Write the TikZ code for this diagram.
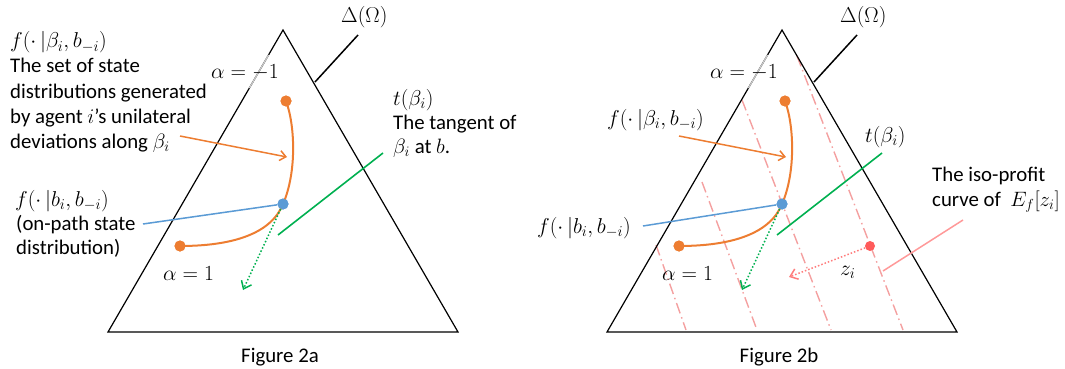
\documentclass[tikz,border=0pt]{standalone}
\usepackage{fix-cm}
\usepackage{fontspec}
\setmainfont{Carlito}
\usetikzlibrary{arrows.meta}
\definecolor{corange}{HTML}{ED7D31}
\definecolor{cblue}{HTML}{5B9BD5}
\definecolor{cgreen}{HTML}{00B050}
\definecolor{cpink}{HTML}{F4A0A0}
\definecolor{cpinkline}{HTML}{FF9999}
\definecolor{cred}{HTML}{FF5B5B}
\definecolor{cgray}{HTML}{C8C8C8}
\begin{document}
\begin{tikzpicture}[x=1pt,y=-1pt,
  font=\fontsize{20.8}{25}\selectfont,
  tri/.style={draw=black, line width=1.2pt, line join=miter},
  edgegray/.style={draw=cgray, line width=1.3pt},
  deltaline/.style={draw=black, line width=1.5pt},
  ocurve/.style={draw=corange, line width=2pt},
  odot/.style={circle, fill=corange, inner sep=0pt, minimum size=11pt},
  bdot/.style={circle, fill=cblue, inner sep=0pt, minimum size=11pt},
  rdot/.style={circle, fill=cred, inner sep=0pt, minimum size=10pt},
  oarrow/.style={draw=corange, line width=1.5pt, -{Straight Barb[length=6pt,width=10pt]}},
  bline/.style={draw=cblue, line width=1.5pt},
  gline/.style={draw=cgreen, line width=1.6pt},
  garrow/.style={draw=cgreen, line width=1.5pt, dotted, -{Straight Barb[length=7pt,width=11pt]}},
  parrow/.style={draw=cred!80, line width=1.5pt, dotted, -{Straight Barb[length=7pt,width=11pt]}},
  isoline/.style={draw=cpinkline, line width=1.5pt},
  dashdotp/.style={draw=cpink, line width=1.4pt, dash pattern=on 11pt off 4pt on 1.5pt off 4pt},
  lbl/.style={anchor=base west, inner sep=0pt},
  mlbl/.style={anchor=base west, inner sep=0pt, font=\fontsize{21.5}{25}\selectfont},
  figcap/.style={anchor=base, inner sep=0pt}]
\useasboundingbox (0,0) rectangle (1065,369);

%================ Figure 2a ================
\coordinate (aA) at (283,30);
\coordinate (aL) at (108,332);
\coordinate (aR) at (458,332);
\draw[tri] (aA) -- (aL) -- (aR) -- cycle;
\coordinate (ag1) at (268.5,55);
\coordinate (ag2) at (249.4,88);
\draw[edgegray] (ag1) -- (ag2);
% Delta(Omega)
\coordinate (adl1) at (315,82);
\coordinate (adl2) at (358,35);
\draw[deltaline] (adl1) -- (adl2);
\node[mlbl] (adelta) at (341,23) {$\Delta(\Omega)$};
% orange curve
\node[odot] (atop) at (286,101) {};
\node[odot] (abot) at (180,246) {};
\node[bdot] (ab) at (283,204) {};
\draw[ocurve] (atop.center) .. controls (295,125) and (297,172) .. (ab.center)
  .. controls (271,234) and (232,246) .. (abot.center);
\node[odot] at (286,101) {};
\node[odot] at (180,246) {};
\node[bdot] at (283,204) {};
% orange arrow
\coordinate (aoa1) at (180,136);
\coordinate (aoa2) at (287,157);
\draw[oarrow] (aoa1) -- (aoa2);
% blue line
\coordinate (abl) at (143,224);
\draw[bline] (abl) -- (ab);
% green tangent
\coordinate (at1) at (278,235);
\coordinate (at2) at (383,153);
\draw[gline] (at1) -- (at2);
\coordinate (agd) at (243,290);
\draw[garrow] (ab) -- (agd);
% labels
\node[mlbl] (alm1) at (211,78) {$\alpha=-1$};
\node[mlbl] (al1) at (163,280) {$\alpha=1$};
\node[mlbl] (af1) at (10,48) {$f(\cdot\,|\beta_i,b_{-i})$};
\node[lbl] (af2) at (10,73) {The set of state};
\node[lbl] (af3) at (10,98) {distributions generated};
\node[lbl] (af4) at (10,123) {by agent $i$’s unilateral};
\node[lbl] (af5) at (10,148) {deviations along $\beta_i$};
\node[mlbl] (ag1l) at (15,206) {$f(\cdot\,|b_i,b_{-i})$};
\node[lbl] (ag2l) at (16,230) {(on-path state};
\node[lbl] (ag3l) at (16,254) {distribution)};
\node[mlbl] (atl1) at (393,105) {$t(\beta_i)$};
\node[lbl] (atl2) at (393,129) {The tangent of};
\node[lbl] (atl3) at (393,153) {$\beta_i$ at $b$.};
\node[figcap] (acap) at (280,362) {Figure 2a};

%================ Figure 2b ================
% dash-dot iso-profit lines
\coordinate (pd1) at (656,245); \coordinate (pd2) at (686,330);
\coordinate (pc1) at (702,182); \coordinate (pc2) at (757,330);
\coordinate (pa1) at (742,100); \coordinate (pa2) at (831,330);
\coordinate (pb1) at (797,56);  \coordinate (pb2) at (903,330);
\draw[dashdotp] (pd1) -- (pd2);
\draw[dashdotp] (pc1) -- (pc2);
\draw[dashdotp] (pa1) -- (pa2);
\draw[dashdotp] (pb1) -- (pb2);

\coordinate (bA) at (782,30);
\coordinate (bL) at (607,332);
\coordinate (bR) at (957,332);
\draw[tri] (bA) -- (bL) -- (bR) -- cycle;
\coordinate (bg1) at (767.5,55);
\coordinate (bg2) at (748.4,88);
\draw[edgegray] (bg1) -- (bg2);
\coordinate (bdl1) at (814,82);
\coordinate (bdl2) at (857,35);
\draw[deltaline] (bdl1) -- (bdl2);
\node[mlbl] (bdelta) at (840,23) {$\Delta(\Omega)$};
% orange curve
\node[odot] (btop) at (785,101) {};
\node[odot] (bbot) at (679,246) {};
\node[bdot] (bb) at (782,204) {};
\draw[ocurve] (btop.center) .. controls (794,125) and (796,172) .. (bb.center)
  .. controls (770,234) and (731,246) .. (bbot.center);
\node[odot] at (785,101) {};
\node[odot] at (679,246) {};
\node[bdot] at (782,204) {};
\coordinate (boa1) at (679,136);
\coordinate (boa2) at (786,157);
\draw[oarrow] (boa1) -- (boa2);
\coordinate (bbl) at (643,226);
\draw[bline] (bbl) -- (bb);
\coordinate (bt1) at (777,235);
\coordinate (bt2) at (882,153);
\draw[gline] (bt1) -- (bt2);
\coordinate (bgd) at (742,290);
\draw[garrow] (bb) -- (bgd);
% z_i
\node[rdot] (bz) at (870,246) {};
\coordinate (bzd) at (789,277);
\draw[parrow] (bz) -- (bzd);
\coordinate (bi1) at (963,220);
\coordinate (bi2) at (883,271);
\draw[isoline] (bi1) -- (bi2);
% labels
\node[mlbl] (blm1) at (710,78) {$\alpha=-1$};
\node[mlbl] (bl1) at (662,280) {$\alpha=1$};
\node[mlbl] (bf1) at (607,125) {$f(\cdot\,|\beta_i,b_{-i})$};
\node[mlbl] (bg1l) at (537,233) {$f(\cdot\,|b_i,b_{-i})$};
\node[mlbl] (btl) at (865,142) {$t(\beta_i)$};
\node[lbl] (biso1) at (932,181) {The iso-profit};
\node[lbl] (biso2) at (932,206) {curve of \ $E_f[z_i]$};
\node[mlbl] (bzl) at (840,275) {$z_i$};
\node[figcap] (bcap) at (779,362) {Figure 2b};
\end{tikzpicture}
\end{document}
